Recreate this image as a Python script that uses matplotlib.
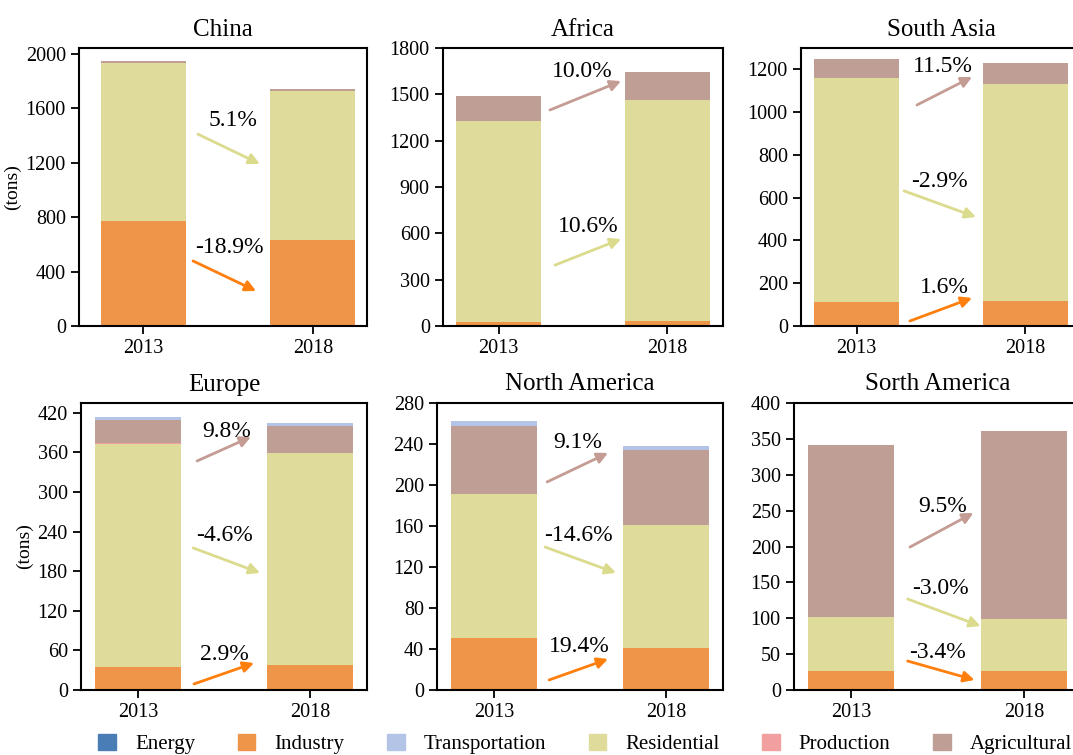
import matplotlib.pyplot as plt
from matplotlib.patches import Patch

plt.rcParams['font.family'] = ['Liberation Serif', 'DejaVu Serif']

years = ['2013', '2018']
sectors = ['Energy', 'Industry', 'Transportation', 'Residential', 'Production', 'Agricultural']
stack_order = ['Energy', 'Industry', 'Residential', 'Production', 'Agricultural', 'Transportation']
colors = {'Energy': '#4a7db5', 'Industry': '#ef9549', 'Transportation': '#b3c4e6',
          'Residential': '#dedb9b', 'Production': '#f2a09f', 'Agricultural': '#bf9f95'}
arrow_colors = {'Industry': '#ff7f0e', 'Residential': '#dbdb8d', 'Agricultural': '#c49c94'}

regions = ['China', 'Africa', 'South Asia', 'Europe', 'North America', 'Sorth America']

# values per region, [2013, 2018] (tons)
china = {'Energy': [1, 1], 'Industry': [774, 628], 'Transportation': [0.5, 0.5],
         'Residential': [1162, 1102], 'Production': [0.5, 0.5], 'Agricultural': [10, 14]}
africa = {'Energy': [1, 1], 'Industry': [27, 29], 'Transportation': [2, 2],
          'Residential': [1298, 1432], 'Production': [0.5, 0.5], 'Agricultural': [162, 182]}
south_asia = {'Energy': [1, 1], 'Industry': [113, 117], 'Transportation': [1, 1],
              'Residential': [1047, 1015], 'Production': [0.5, 0.5], 'Agricultural': [85, 96]}
europe = {'Energy': [0.5, 0.5], 'Industry': [35, 37], 'Transportation': [4, 5],
          'Residential': [338, 322], 'Production': [0.2, 0.2], 'Agricultural': [36, 40]}
north_america = {'Energy': [0.5, 0.5], 'Industry': [50, 40], 'Transportation': [5, 4],
                 'Residential': [141, 120], 'Production': [0.2, 0.2], 'Agricultural': [66, 73]}
south_america = {'Energy': [0.3, 0.3], 'Industry': [26.5, 25.5], 'Transportation': [1, 1],
                 'Residential': [75, 73.5], 'Production': [0.2, 0.2], 'Agricultural': [239, 261]}
region_data = [china, africa, south_asia, europe, north_america, south_america]

# change labels shown next to the arrows
changes = [
    [('Residential', '5.1%'), ('Industry', '-18.9%')],
    [('Agricultural', '10.0%'), ('Residential', '10.6%')],
    [('Agricultural', '11.5%'), ('Residential', '-2.9%'), ('Industry', '1.6%')],
    [('Agricultural', '9.8%'), ('Residential', '-4.6%'), ('Industry', '2.9%')],
    [('Agricultural', '9.1%'), ('Residential', '-14.6%'), ('Industry', '19.4%')],
    [('Agricultural', '9.5%'), ('Residential', '-3.0%'), ('Industry', '-3.4%')],
]

y_max = [2045, 1800, 1300, 435, 280, 400]
y_step = [400, 300, 200, 60, 40, 50]
y_top_tick = [2000, 1800, 1200, 420, 280, 400]

# layout: axes boxes in pixels (left, top, width, height), arrows in axes fraction
W, H = 1073, 755
boxes = [(79, 48, 288, 278), (443, 48, 280, 278), (801, 48, 280, 278),
         (81, 403, 286, 287), (437, 403, 286, 287), (794, 403, 287, 287)]
xlims = [(-0.38, 1.32), (-0.33, 1.33), (-0.33, 1.33), (-0.33, 1.33), (-0.33, 1.33), (-0.33, 1.33)]
arrow_pos = [
    [((0.413, 0.69), (0.628, 0.583), (0.535, 0.741)),
     ((0.396, 0.234), (0.615, 0.126), (0.521, 0.281))],
    [((0.382, 0.777), (0.636, 0.881), (0.496, 0.917)),
     ((0.40, 0.219), (0.636, 0.313), (0.518, 0.357))],
    [((0.414, 0.795), (0.611, 0.896), (0.507, 0.932)),
     ((0.368, 0.486), (0.625, 0.392), (0.496, 0.518)),
     ((0.389, 0.018), (0.611, 0.101), (0.511, 0.14))],
    [((0.406, 0.798), (0.594, 0.882), (0.51, 0.899)),
     ((0.392, 0.495), (0.626, 0.408), (0.50, 0.537)),
     ((0.395, 0.021), (0.605, 0.094), (0.503, 0.122))],
    [((0.385, 0.725), (0.598, 0.826), (0.493, 0.864)),
     ((0.378, 0.498), (0.626, 0.408), (0.493, 0.537)),
     ((0.392, 0.035), (0.598, 0.108), (0.497, 0.15))],
    [((0.404, 0.498), (0.625, 0.617), (0.518, 0.641)),
     ((0.396, 0.317), (0.65, 0.223), (0.511, 0.355)),
     ((0.396, 0.101), (0.629, 0.035), (0.50, 0.129))],
]

fig = plt.figure(figsize=(W / 100, H / 100), dpi=100)

for i, region in enumerate(regions):
    l, t, w, h = boxes[i]
    ax = fig.add_axes([l / W, 1 - (t + h) / H, w / W, h / H])
    data = region_data[i]
    x = [0, 1]
    bottom = [0, 0]
    for s in stack_order:
        vals = data[s]
        ax.bar(x, vals, 0.5, bottom=bottom, color=colors[s], linewidth=0)
        bottom = [b + v for b, v in zip(bottom, vals)]

    ax.set_xlim(*xlims[i])
    ax.set_ylim(0, y_max[i])
    ax.set_xticks(x)
    ax.set_xticklabels(years)
    ax.set_yticks(range(0, y_top_tick[i] + 1, y_step[i]))
    ax.tick_params(labelsize=14.5, length=6, width=1.3)
    for sp in ax.spines.values():
        sp.set_linewidth(1.5)
    ax.set_title(region, fontsize=18, pad=9)
    if i % 3 == 0:
        ax.set_ylabel('(tons)', fontsize=14, labelpad=3)

    for (sector, label), (start, end, txt) in zip(changes[i], arrow_pos[i]):
        ax.annotate('', xy=end, xytext=start, xycoords='axes fraction',
                    arrowprops=dict(arrowstyle='-|>', color=arrow_colors[sector],
                                    lw=2, mutation_scale=16, shrinkA=0, shrinkB=0))
        ax.text(txt[0], txt[1], label, transform=ax.transAxes, fontsize=17,
                ha='center', va='center')

handles = [Patch(color=colors[s], label=s) for s in sectors]
fig.legend(handles=handles, loc='center', bbox_to_anchor=(585 / W, 1 - 744 / H), ncol=6,
           frameon=False, fontsize=15, handlelength=0.85, handleheight=0.85,
           handletextpad=0.9, columnspacing=2.05, borderpad=0.2)

fig.savefig('out.png', dpi=100)
